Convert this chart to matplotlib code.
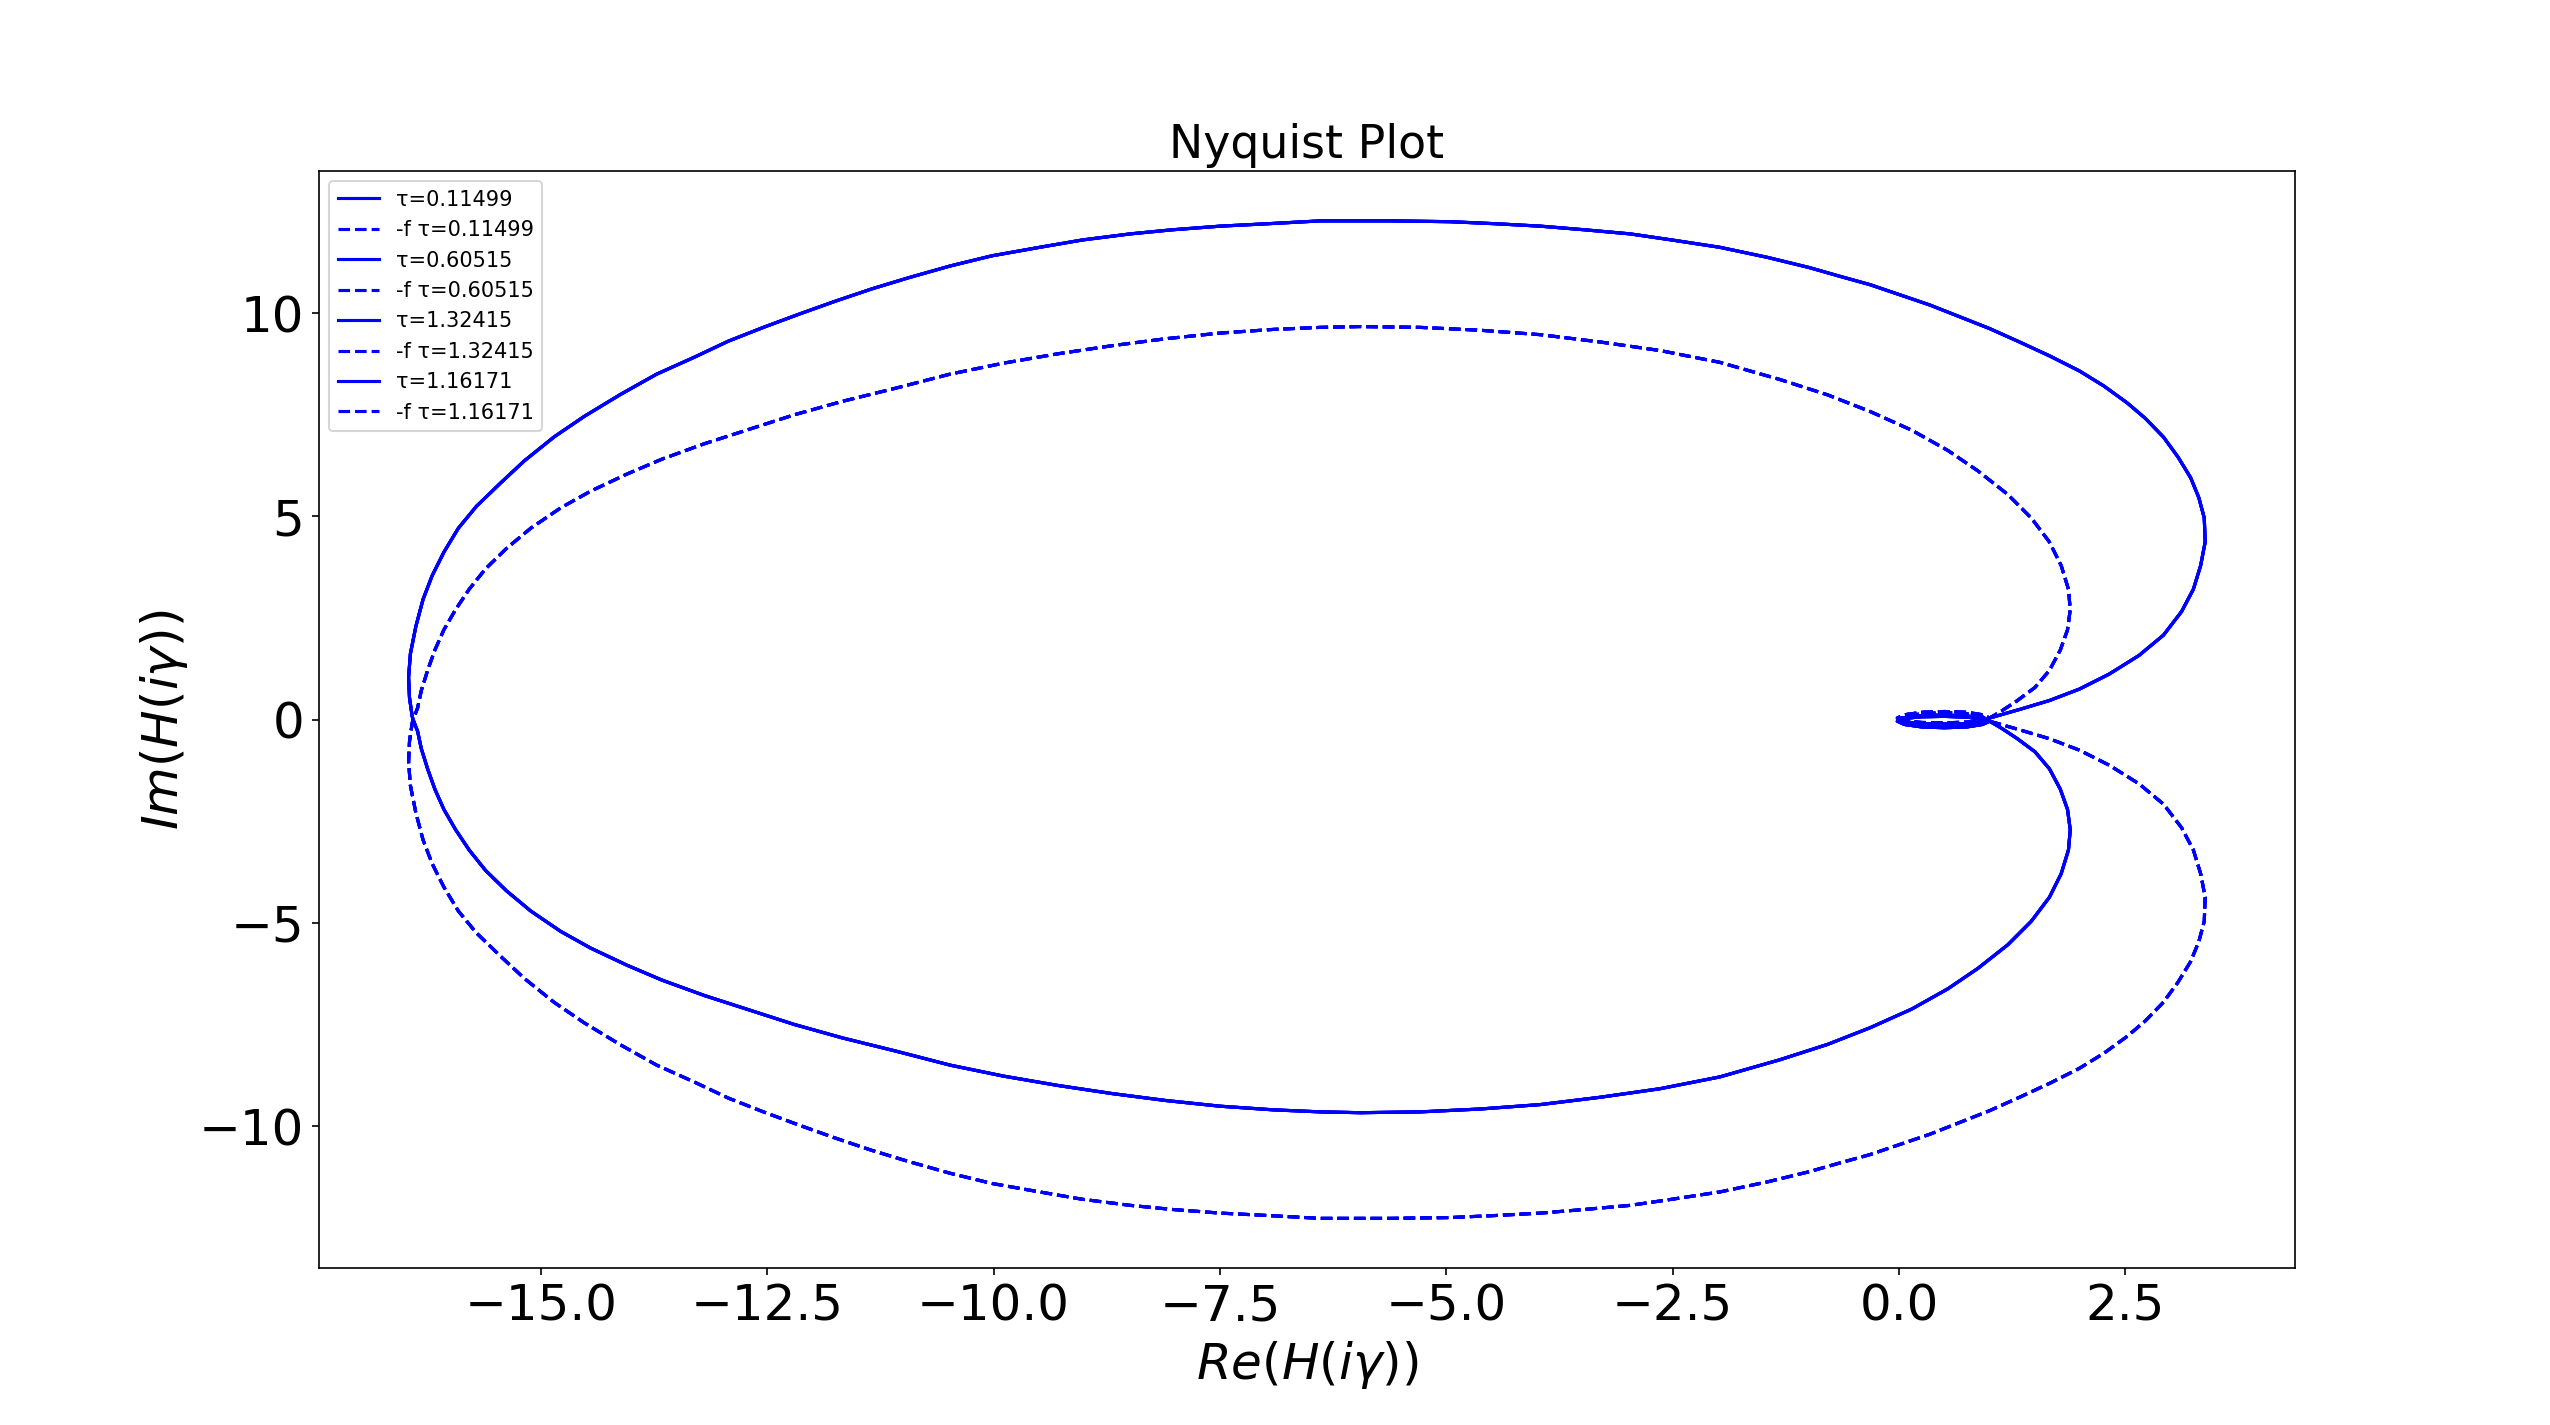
import numpy as np
import matplotlib.pyplot as plt

# delays shown in the legend
taus = [0.11499, 0.60515, 1.32415, 1.16171]

# Nyquist curve (positive frequencies)
# upper branch: from the junction near 1 up over the right lobe and across the top
re_upper = [1.00, 1.33, 1.66, 1.99, 2.32, 2.65, 2.92, 3.12, 3.25, 3.33, 3.38, 3.37,
            3.31, 3.22, 3.08, 2.92, 2.72, 2.52, 2.26, 1.99, 1.66, 1.33, 1.00, 0.67,
            0.34, 0.01, -0.32, -0.66, -0.99, -1.45, -1.98, -2.51, -2.97, -3.47, -3.96,
            -4.46, -4.96, -5.62, -6.39, -6.97, -7.50, -8.03, -8.49, -9.02, -9.49,
            -10.02, -10.48, -10.94, -11.34, -11.74, -12.13, -12.53, -12.93, -13.31,
            -13.72, -14.12, -14.52, -14.85, -15.18, -15.44, -15.71, -15.91, -16.07,
            -16.20, -16.30, -16.38, -16.44, -16.46, -16.45, -16.42, -16.41]
im_upper = [0.04, 0.25, 0.47, 0.75, 1.12, 1.58, 2.08, 2.66, 3.21, 3.79, 4.37, 4.96,
            5.46, 5.95, 6.46, 6.95, 7.41, 7.79, 8.21, 8.58, 8.95, 9.29, 9.62, 9.91,
            10.20, 10.45, 10.70, 10.91, 11.12, 11.37, 11.62, 11.80, 11.95, 12.05, 12.14,
            12.20, 12.25, 12.27, 12.27, 12.20, 12.14, 12.05, 11.95, 11.80, 11.62,
            11.41, 11.16, 10.87, 10.60, 10.30, 9.99, 9.66, 9.31, 8.91,
            8.50, 8.00, 7.46, 6.96, 6.37, 5.83, 5.25, 4.71, 4.12,
            3.54, 2.96, 2.29, 1.62, 1.04, 0.54, 0.08, 0.00]

# lower branch: from the left crossing along the bottom back to the junction
re_lower = [-16.36, -16.32, -16.25, -16.17, -16.07, -15.94, -15.79, -15.61, -15.38,
            -15.11, -14.78, -14.45, -14.05, -13.66, -13.19, -12.73, -12.20, -11.67,
            -11.07, -10.48, -9.89, -9.29, -8.69, -8.10, -7.50, -6.91, -6.39, -5.95,
            -5.29, -4.63, -3.96, -3.30, -2.64, -1.98, -1.32, -0.79, -0.32, 0.14, 0.54,
            0.87, 1.20, 1.46, 1.66, 1.79, 1.87, 1.89, 1.86, 1.78, 1.66, 1.50, 1.30,
            1.13, 1.00]
im_lower = [-0.29, -0.71, -1.21, -1.71, -2.21, -2.71, -3.21, -3.71, -4.21,
            -4.71, -5.21, -5.62, -6.04, -6.41, -6.79, -7.12, -7.50, -7.83,
            -8.16, -8.50, -8.77, -9.00, -9.20, -9.37, -9.51, -9.60, -9.65, -9.67,
            -9.65, -9.58, -9.47, -9.29, -9.08, -8.79, -8.37, -7.99, -7.58, -7.12, -6.62,
            -6.12, -5.54, -4.96, -4.37, -3.79, -3.21, -2.71, -2.21, -1.71, -1.21, -0.79, -0.46,
            -0.21, -0.04]

# small high-frequency loops between 0 and 1
re_loop = [0.92, 0.75, 0.50, 0.25, 0.06, -0.02, 0.02, 0.20, 0.45, 0.70, 0.90, 0.98,
           0.90, 0.72, 0.50, 0.28, 0.10, 0.02, 0.06, 0.25, 0.50, 0.75, 0.93]
im_loop = [-0.12, -0.18, -0.20, -0.18, -0.12, -0.04, 0.04, 0.09, 0.11, 0.10, 0.05, 0.00,
           -0.09, -0.15, -0.17, -0.15, -0.10, -0.03, 0.03, 0.07, 0.08, 0.06, 0.01]

re_pos = np.array(re_upper + re_lower + re_loop)
im_pos = np.array(im_upper + im_lower + im_loop)

fig, ax = plt.subplots(figsize=(17, 9.5), dpi=150)

for tau in taus:
    # positive frequencies
    ax.plot(re_pos, im_pos, color='blue', linestyle='-', label=f'τ={tau}')
    # negative frequencies: complex conjugate
    ax.plot(re_pos, -im_pos, color='blue', linestyle='--', label=f'-f τ={tau}')

ax.set_title('Nyquist Plot', fontsize=22)
ax.set_xlabel(r'$Re(H(i\gamma))$', fontsize=24)
ax.set_ylabel(r'$Im(H(i\gamma))$', fontsize=24)
ax.tick_params(labelsize=24)
ax.legend(loc='upper left')

plt.savefig('out.png')
